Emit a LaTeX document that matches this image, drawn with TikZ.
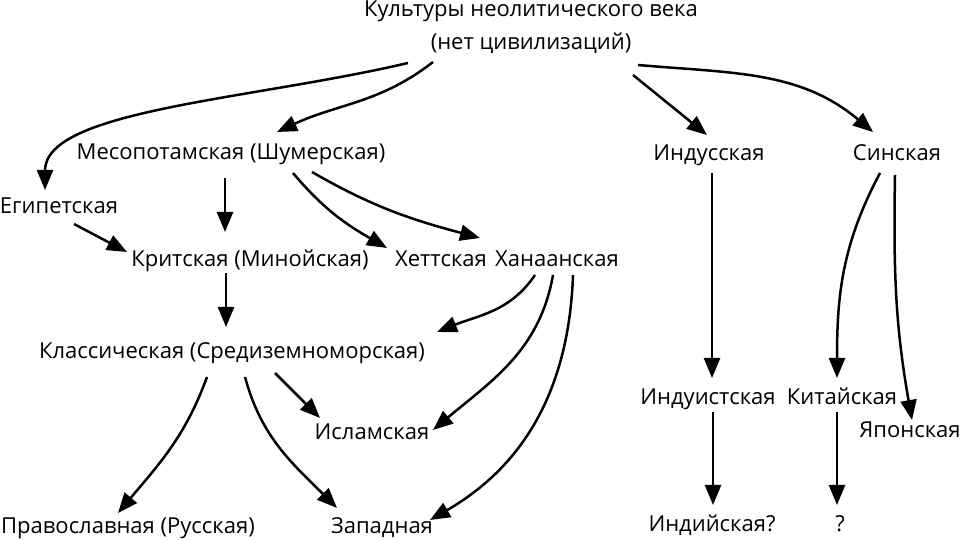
\documentclass[tikz,border=0pt]{standalone}
\usepackage{fontspec}
\setmainfont{Open Sans}
\usetikzlibrary{arrows.meta}
\tikzset{
  civ/.style={inner sep=0pt, anchor=base, font=\fontsize{22}{33}\selectfont},
  link/.style={line width=2.5pt, -{Triangle[length=20pt,width=16pt]}}
}
\begin{document}
\begin{tikzpicture}[x=1pt,y=1pt]
\useasboundingbox (0,0) rectangle (960,540);
\node[civ, anchor=south, align=center] (neo) at (531,486) {Культуры неолитического века\\(нет цивилизаций)}; % neolithic
\node[civ] (mes) at (231,380) {Месопотамская (Шумерская)}; % sumer
\node[civ] (egy) at (59,326) {Египетская}; % egypt
\node[civ] (krit) at (250,273) {Критская (Минойская)}; % minoan
\node[civ] (hett) at (441,273) {Хеттская}; % hittite
\node[civ] (khan) at (557,273) {Ханаанская}; % canaan
\node[civ] (indus) at (709,379) {Индусская}; % indus
\node[civ] (sin) at (897,379) {Синская}; % sinic
\node[civ] (klass) at (232,181) {Классическая (Средиземноморская)}; % classic
\node[civ] (islam) at (372,100) {Исламская}; % islam
\node[civ] (prav) at (128,6) {Православная (Русская)}; % orthodox
\node[civ] (zap) at (382,6) {Западная}; % west
\node[civ] (hindu) at (708,135) {Индуистская}; % hindu
\node[civ] (kit) at (842,135) {Китайская}; % china
\node[civ] (jap) at (910,102) {Японская}; % japan
\node[civ] (indi) at (712,8) {Индийская?}; % india
\node[civ] (q) at (840,8) {?}; % unknown
\draw[link] ([shift={(-123,-9)}]neo.south) .. controls +(-158,-37) and +(0,80) .. ([shift={(-14,24)}]egy.base); % neo-egy
\draw[link] ([shift={(-98,-8)}]neo.south) to[out=218,in=25] ([shift={(46,28)}]mes.base); % neo-mes
\draw[link] ([shift={(102,-21)}]neo.south) -- ([shift={(-2,26)}]indus.base); % neo-indus
\draw[link] ([shift={(107,-11)}]neo.south) to[out=-5,in=140] ([shift={(-24,29)}]sin.base); % neo-sin
\draw[link] ([shift={(-6,-18)}]mes.base) -- ([shift={(-25,35)}]krit.base); % mes-krit
\draw[link] ([shift={(62,-13)}]mes.base) to[out=-50,in=150] ([shift={(-54,19)}]hett.base); % mes-hett
\draw[link] ([shift={(81,-12)}]mes.base) to[out=-30,in=165] ([shift={(-77,29)}]khan.base); % mes-khan
\draw[link] ([shift={(15,-10)}]egy.base) -- ([shift={(-123,15)}]krit.base); % egy-krit
\draw[link] ([shift={(-24,-6)}]krit.base) -- ([shift={(-6,32)}]klass.base); % krit-klass
\draw[link] ([shift={(-22,-8)}]khan.base) to[out=236,in=22] ([shift={(205,27)}]klass.base); % khan-klass
\draw[link] ([shift={(-4,-8)}]khan.base) to[out=-100,in=40] ([shift={(61,10)}]islam.base); % khan-islam
\draw[link] ([shift={(16,-8)}]khan.base) to[out=-92,in=30] ([shift={(48,14)}]zap.base); % khan-zap
\draw[link] ([shift={(-25,-18)}]klass.base) to[out=-110,in=50] ([shift={(-10,21)}]prav.base); % klass-prav
\draw[link] ([shift={(13,-18)}]klass.base) to[out=-75,in=135] ([shift={(-45,26)}]zap.base); % klass-zap
\draw[link] ([shift={(43,-14)}]klass.base) -- ([shift={(-52,22)}]islam.base); % klass-islam
\draw[link] ([shift={(3,-12)}]indus.base) -- ([shift={(4,27)}]hindu.base); % indus-hindu
\draw[link] ([shift={(-17,-12)}]sin.base) to[out=-118,in=90] ([shift={(-5,27)}]kit.base); % sin-kit
\draw[link] ([shift={(-2,-14)}]sin.base) to[out=-91,in=100] ([shift={(2,18)}]jap.base); % sin-jap
\draw[link] ([shift={(5,-7)}]hindu.base) -- ([shift={(1,27)}]indi.base); % hindu-indi
\draw[link] ([shift={(-5,-7)}]kit.base) -- ([shift={(-3,27)}]q.base); % kit-q
\end{tikzpicture}
\end{document}
